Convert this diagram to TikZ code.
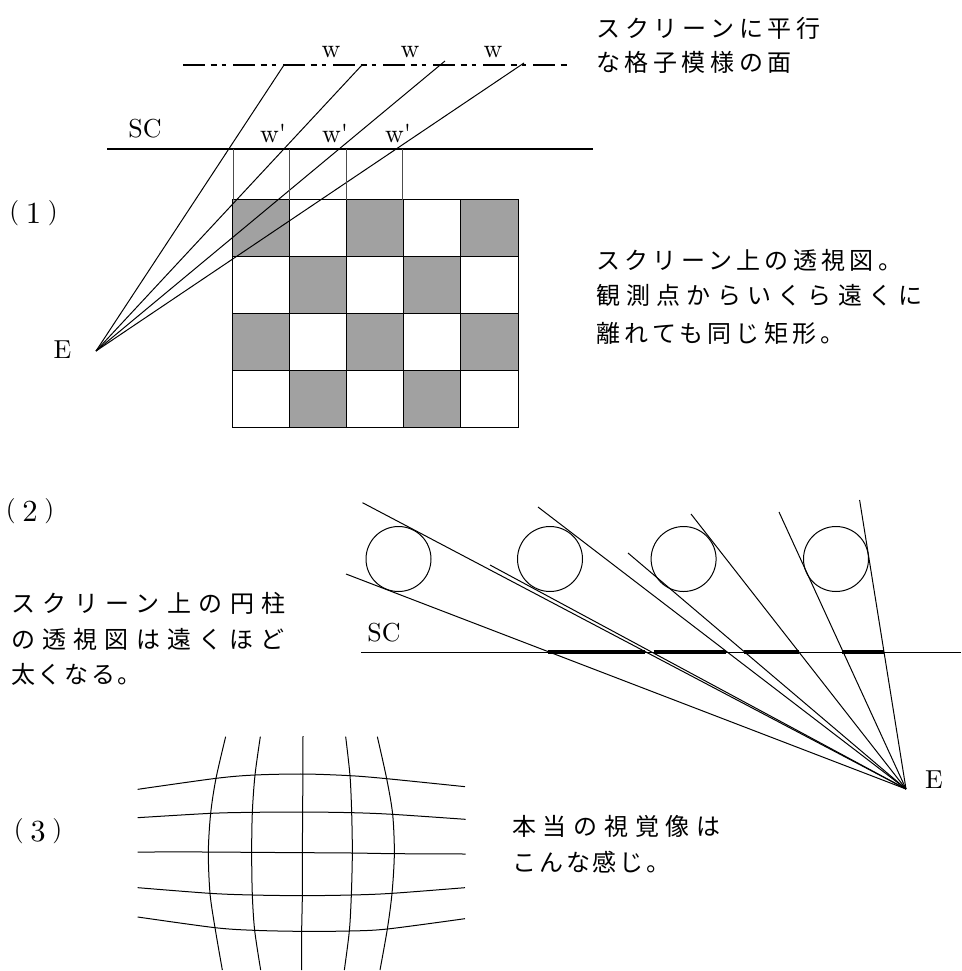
\documentclass[tikz,border=0pt]{standalone}
\usepackage{fontspec}
\newfontfamily\jp{Noto Sans CJK JP}
\newfontfamily\lat{lmroman10-regular.otf}
\newcommand{\ls}[1]{\addfontfeature{LetterSpace=#1}}
\newcommand{\numtext}[1]{(\hspace{5pt}\raisebox{-3pt}{\fontsize{23pt}{24pt}\selectfont #1}\hspace{5pt})}
\definecolor{cellgray}{gray}{0.63}
\tikzset{
  x=0.75pt,y=-0.75pt,
  thinline/.style={line width=0.75pt,black},
  screenline/.style={line width=2pt,black},
  dropline/.style={line width=0.6pt,black!70},
  patternline/.style={line width=2pt,black,dash pattern=on 16.3pt off 4.5pt on 4.5pt off 3.7pt on 3pt off 5.5pt},
  cell/.style={draw=black,line width=0.75pt},
  thickseg/.style={line width=2.4pt,black},
  gridline/.style={line width=0.75pt,black},
  jplabel/.style={anchor=west,inner sep=0pt,text height=15.84pt,text depth=2.16pt,font=\jp\fontsize{18pt}{20pt}\selectfont},
  latinlabel/.style={anchor=base,inner sep=0pt,font=\lat\fontsize{19.5pt}{22pt}\selectfont},
  numlabel/.style={anchor=base west,inner sep=0pt,font=\lat\fontsize{19pt}{22pt}\selectfont},
}
\begin{document}
\begin{tikzpicture}
\useasboundingbox (0,0) rectangle (961,971);
% ---------- (1)
\foreach \c/\r/\f in {0/0/cellgray,1/0/white,2/0/cellgray,3/0/white,4/0/cellgray,
                      0/1/white,1/1/cellgray,2/1/white,3/1/cellgray,4/1/white,
                      0/2/cellgray,1/2/white,2/2/cellgray,3/2/white,4/2/cellgray,
                      0/3/white,1/3/cellgray,2/3/white,3/3/cellgray,4/3/white}{
  \path[cell,fill=\f] ({232+57.2*\c},{199+57.2*\r}) rectangle ({232+57.2*(\c+1)},{199+57.2*(\r+1)});
}
\coordinate (pl) at (183,65);
\coordinate (pr) at (570,65);
\draw[patternline] (pl) -- (pr);
\coordinate (sl) at (107,149);
\coordinate (sr) at (593,149);
\draw[screenline] (sl) -- (sr);
\coordinate (eye1) at (96,351);
\coordinate (a1) at (284,65);
\coordinate (a2) at (362,65);
\coordinate (a3) at (445,61);
\coordinate (a4) at (524,63);
\foreach \p in {a1,a2,a3,a4} \draw[thinline] (eye1) -- (\p);
\foreach \i/\xx in {1/233,2/289,3/346,4/402}{
  \coordinate (dt\i) at (\xx,149);
  \coordinate (db\i) at (\xx,200);
  \draw[dropline] (dt\i) -- (db\i);
}
\node[latinlabel] (w1) at (331,57) {w};
\node[latinlabel] (w2) at (410,57) {w};
\node[latinlabel] (w3) at (493,57) {w};
\node[latinlabel] (wp1) at (273,142) {w'};
\node[latinlabel] (wp2) at (335,142) {w'};
\node[latinlabel] (wp3) at (398,142) {w'};
\node[latinlabel] (sc1) at (145,137) {SC};
\node[latinlabel] (e1) at (62.5,358) {E};
\node[jplabel] (t1a) at (596,28) {\ls{20}スクリーンに平行};
\node[jplabel] (t1b) at (596,62) {\ls{19}な格子模様の面};
\node[numlabel] (n1) at (9,219) {\numtext{1}};
\node[jplabel] (t2a) at (596,260) {\ls{18}スクリーン上の透視図。};
\node[jplabel] (t2b) at (596,295) {\ls{26}観測点からいくら遠くに};
\node[jplabel] (t2c) at (596,333) {\ls{18}離れても同じ矩形。};
% ---------- (2)
\node[numlabel] (n2) at (5.5,517) {\numtext{2}};
\node[jplabel] (t3a) at (11,603) {\ls{31}スクリーン上の円柱};
\node[jplabel] (t3b) at (11,639) {\ls{30}の透視図は遠くほど};
\node[jplabel] (t3c) at (11,674) {\ls{11}太くなる。};
\node[latinlabel] (sc2) at (384,641) {SC};
\node[latinlabel] (e2) at (934,788) {E};
\coordinate (sl2) at (361,652);
\coordinate (sr2) at (961,652);
\draw[thinline] (sl2) -- (sr2);
\foreach \i/\xa/\xb in {1/548/644.5,2/653.6/726,3/744/798.7,4/842/884}{
  \coordinate (sa\i) at (\xa,652);
  \coordinate (sb\i) at (\xb,652);
  \draw[thickseg] (sa\i) -- (sb\i);
}
\foreach \i/\xx in {1/398.5,2/550,3/683.6,4/836}{
  \node[circle,draw,thinline,minimum size=48.75pt,inner sep=0pt] (cyl\i) at (\xx,559) {};
}
\coordinate (eye2) at (906,789);
\foreach \i/\xx/\yy in {1/362.5/502.7,2/346/574,3/490/565,4/538/507,5/628/553,6/691/514,7/779/512,8/859.6/500}{
  \coordinate (r\i) at (\xx,\yy);
  \draw[thinline] (eye2) -- (r\i);
}
% ---------- (3)
\node[numlabel] (n3) at (13.5,837) {\numtext{3}};
\node[jplabel] (t4a) at (512,826) {\ls{28}本当の視覚像は};
\node[jplabel] (t4b) at (512,862) {\ls{12}こんな感じ。};
\begin{scope}[shift={(120,730)},x=0.25pt,y=-0.25pt]
\draw[gridline] plot[smooth,tension=0.5] coordinates {(53,178)(288,145)(405,135)(550,132)(690,137)(800,146)(1035,170)};
\draw[gridline] plot[smooth,tension=0.5] coordinates {(53,263)(272,250)(397,247)(548,246)(695,248)(818,253)(1037,268)};
\draw[gridline] plot[smooth,tension=0.5] coordinates {(53,366)(265,366)(395,367)(547,368)(697,369)(823,371)(1037,372)};
\draw[gridline] plot[smooth,tension=0.5] coordinates {(53,473)(270,490)(397,495)(547,497)(694,495)(816,490)(1035,473)};
\draw[gridline] plot[smooth,tension=0.5] coordinates {(53,561)(285,593)(404,601)(545,604)(688,603)(802,597)(1035,566)};
\draw[gridline] plot[smooth,tension=0.5] coordinates {(317,20)(288,145)(272,250)(265,366)(270,490)(285,593)(307,720)};
\draw[gridline] plot[smooth,tension=0.5] coordinates {(421,20)(405,135)(397,247)(395,367)(397,495)(404,601)(422,720)};
\draw[gridline] plot[smooth,tension=0.5] coordinates {(549,18)(548,246)(547,368)(547,497)(545,604)(545,720)};
\draw[gridline] plot[smooth,tension=0.5] coordinates {(677,20)(690,137)(695,248)(697,369)(694,495)(688,603)(673,720)};
\draw[gridline] plot[smooth,tension=0.5] coordinates {(772,20)(800,146)(818,253)(823,371)(816,490)(802,597)(780,720)};
\end{scope}
\end{tikzpicture}
\end{document}
